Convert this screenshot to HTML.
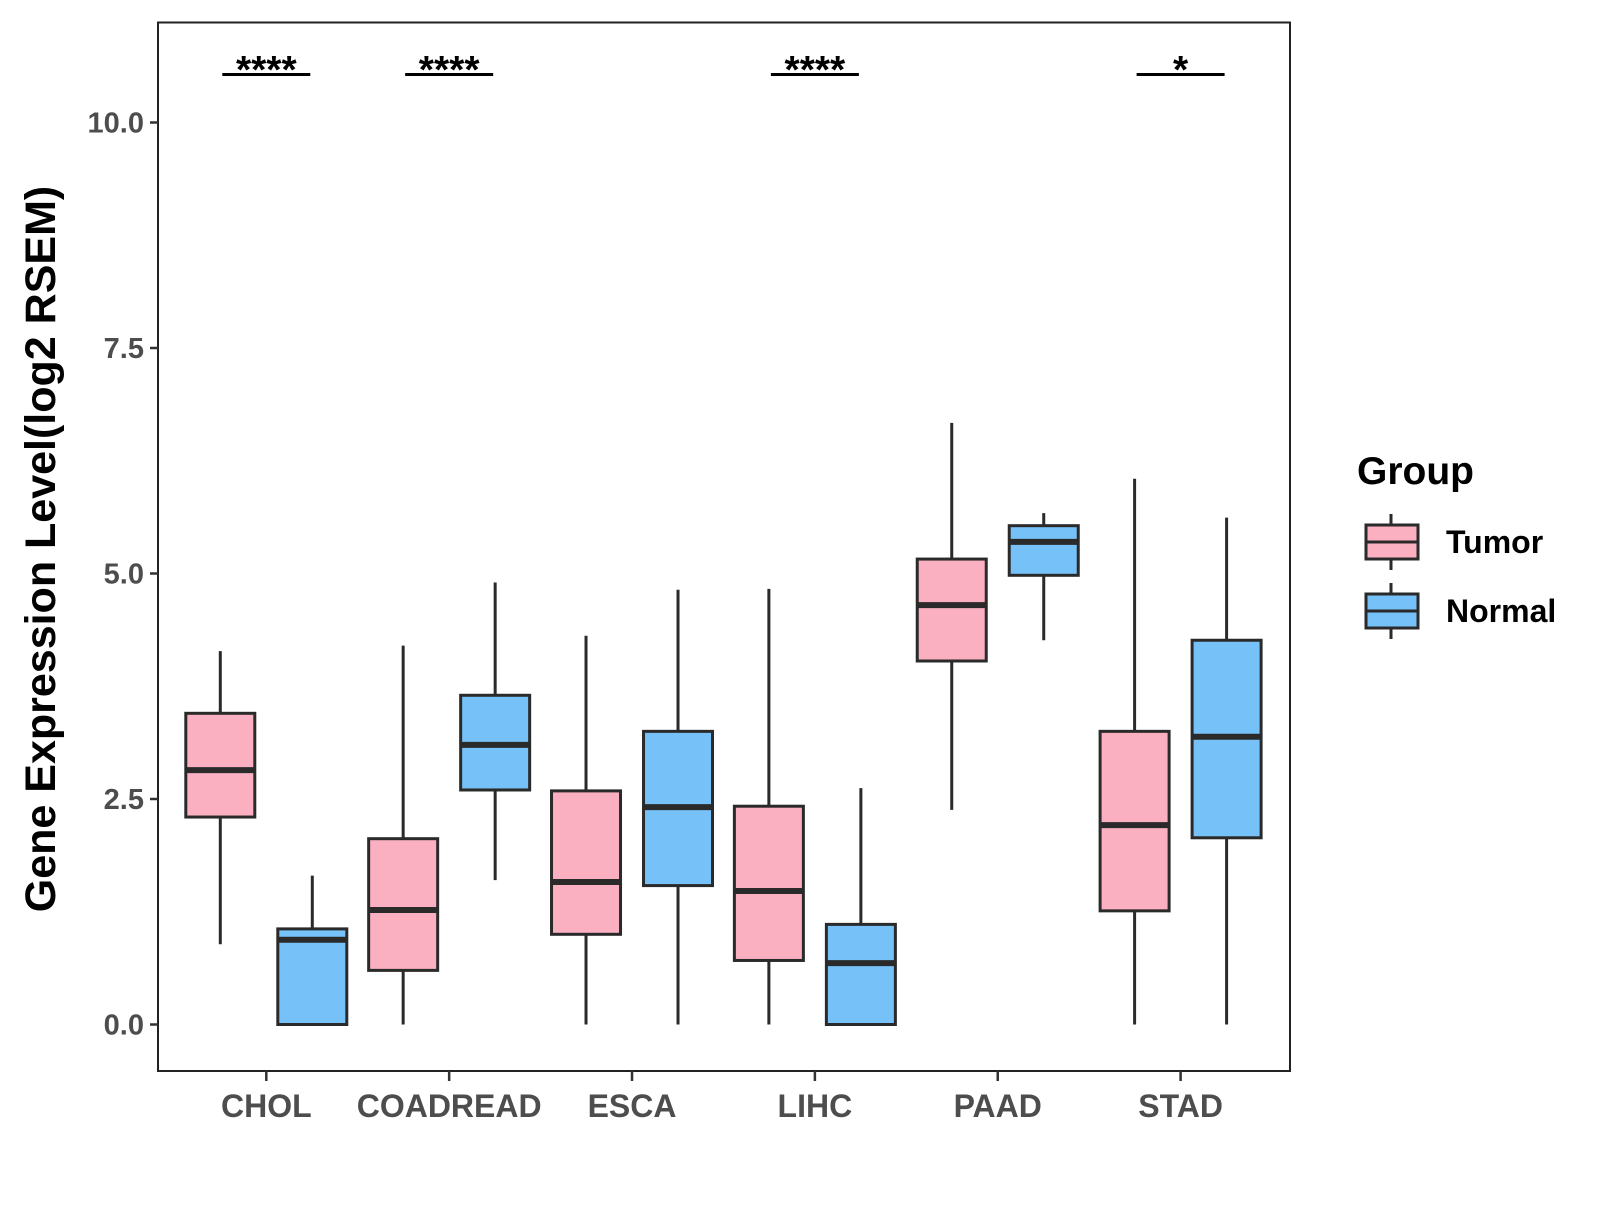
<!DOCTYPE html>
<html><head><meta charset="utf-8"><style>html,body{margin:0;padding:0;background:#fff}</style></head>
<body>
<svg id="chart" width="1600" height="1200" xmlns="http://www.w3.org/2000/svg" font-family="Liberation Sans, Arial, sans-serif">
<rect width="1600" height="1200" fill="#fff"/>
<g id="plot"></g>
</svg>
<script>
const categories = ["CHOL","COADREAD","ESCA","LIHC","PAAD","STAD"];
const groups = ["Tumor","Normal"];
// [low, q1, median, q3, high]
const tumorStats = [[0.89,2.30,2.82,3.45,4.14],[0,0.60,1.27,2.06,4.2],[0,1.0,1.58,2.59,4.31],[0,0.71,1.48,2.42,4.83],[2.38,4.03,4.65,5.16,6.67],[0,1.26,2.21,3.25,6.05]];
const normalStats = [[0,0,0.94,1.06,1.65],[1.60,2.60,3.10,3.65,4.9],[0,1.54,2.41,3.25,4.82],[0,0,0.68,1.11,2.62],[4.26,4.98,5.35,5.53,5.67],[0,2.07,3.19,4.26,5.62]];
const signif = ["****","****","","****","","*"];
const yTicks = [0,2.5,5,7.5,10];
const yTickLabels = ["0.0","2.5","5.0","7.5","10.0"];

const NS="http://www.w3.org/2000/svg";
const g=document.getElementById('plot');
const L=158,T=22.5,R=1290,B=1071;
const y=v=>1024.5-v*90.2;
const x=i=>266.3+i*182.86;
function mk(tag,attrs,parent){const e=document.createElementNS(NS,tag);for(const k in attrs)e.setAttribute(k,attrs[k]);(parent||g).appendChild(e);return e;}
let e;
e=mk('rect',{x:L,y:T,width:R-L,height:B-T,fill:'none',stroke:'#222','stroke-width':2});


yTicks.forEach((t,i)=>{
  e=mk('line',{x1:L-8,x2:L,y1:y(t),y2:y(t),stroke:'#333','stroke-width':2.5});
  
  
  e=mk('text',{x:L-14,y:y(t)+10,'text-anchor':'end','font-size':29,'font-weight':'bold',fill:'#4d4d4d'});
  e.textContent=yTickLabels[i];
  
  
});
categories.forEach((c,i)=>{
  e=mk('line',{x1:x(i),x2:x(i),y1:B,y2:B+10,stroke:'#333','stroke-width':2.5});
  
  
  e=mk('text',{x:x(i),y:B+46,'text-anchor':'middle','font-size':32,'font-weight':'bold',fill:'#4d4d4d'});
  e.textContent=c;
  
  
  [[tumorStats[i],-46,'#FBB0C1'],[normalStats[i],46,'#76C2F8']].forEach(([s,off,col],gi)=>{
    const cx=x(i)+off,w=69;
    e=mk('line',{x1:cx,x2:cx,y1:y(s[0]),y2:y(s[4]),stroke:'#2a2a2a','stroke-width':3});
    
    
    e=mk('rect',{x:cx-w/2,y:y(s[3]),width:w,height:y(s[1])-y(s[3]),fill:col,stroke:'#2a2a2a','stroke-width':3});
    
    
    e=mk('line',{x1:cx-w/2,x2:cx+w/2,y1:y(s[2]),y2:y(s[2]),stroke:'#2a2a2a','stroke-width':6});
    
    
  });
  if(signif[i]){
    e=mk('line',{x1:x(i)-44,x2:x(i)+44,y1:74.5,y2:74.5,stroke:'#000','stroke-width':3});
    
    
    e=mk('text',{x:x(i),y:83,'text-anchor':'middle','font-size':39,'font-weight':'bold',fill:'#000'});
    e.textContent=signif[i];
    
    
  }
});
e=mk('text',{x:0,y:0,transform:'translate(55,549) rotate(-90)','text-anchor':'middle','font-size':43,'font-weight':'bold',fill:'#000'});
e.textContent='Gene Expression Level(log2 RSEM)';


e=mk('text',{x:1357,y:484,'font-size':39,'font-weight':'bold',fill:'#000'});
e.textContent='Group';


[['Tumor','#FBB0C1',542],['Normal','#76C2F8',611]].forEach(([lab,col,cy])=>{
  const lg=mk('g',{});
  
  
  mk('line',{x1:1391,x2:1391,y1:cy-28,y2:cy+28,stroke:'#2a2a2a','stroke-width':3},lg);
  mk('rect',{x:1366,y:cy-17,width:52,height:34,fill:col,stroke:'#2a2a2a','stroke-width':3},lg);
  mk('line',{x1:1366,x2:1418,y1:cy,y2:cy,stroke:'#2a2a2a','stroke-width':3},lg);
  const t=mk('text',{x:1446,y:cy+11,'font-size':32,'font-weight':'bold',fill:'#000'},lg);
  t.textContent=lab;
});
</script>
</body></html>
